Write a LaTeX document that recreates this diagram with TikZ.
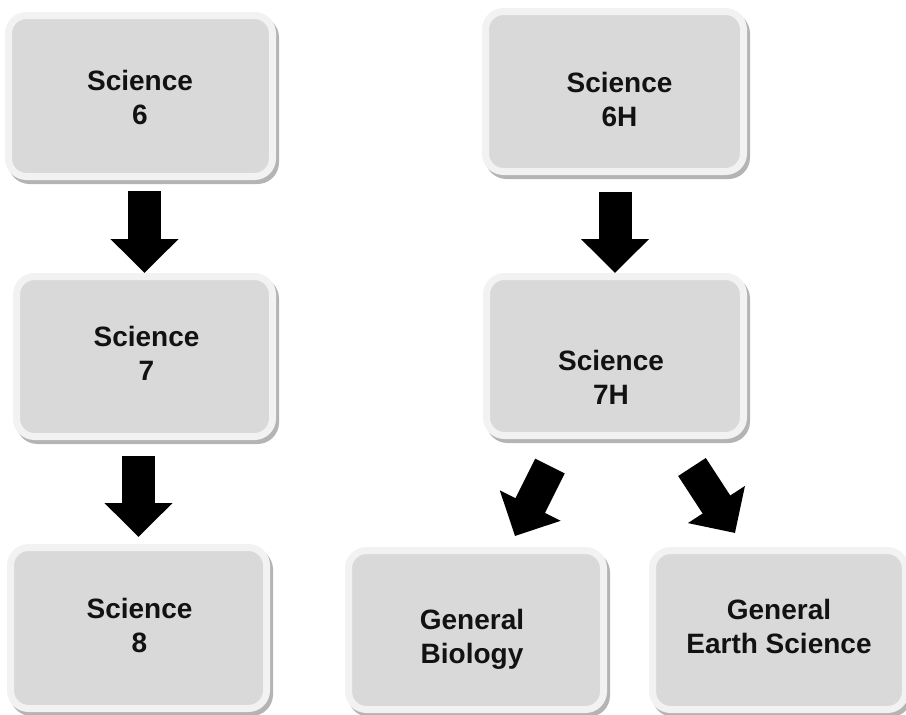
\documentclass[tikz,border=0pt]{standalone}
\usepackage{fontspec}
\setmainfont{Liberation Sans}
\usetikzlibrary{arrows.meta, calc}
\definecolor{boxfill}{HTML}{D9D9D9}
\definecolor{boxrim}{HTML}{F2F2F2}
\definecolor{boxshade}{HTML}{B4B4B4}

\begin{document}
\begin{tikzpicture}[x=1pt,y=-1pt,
        course/.style={draw=boxrim,fill=boxfill,line width=7pt,
            rounded corners=18pt,inner sep=0pt,
            preaction={draw=boxshade,fill=boxshade,line width=7pt,
            transform canvas={xshift=3pt,yshift=-4pt}}},
        title/.style={align=center,text=black!93,
            font=\fontsize{28}{34}\selectfont\bfseries},
        fatarrow/.style={line width=33pt,
            -{Triangle[length=34pt,width=66pt]}}
        ]
        \useasboundingbox (0,0) rectangle (906,715);

        % Regular track (left column)
        \node[course,minimum width=264pt,minimum height=161pt] (s6) at (140.5,96) {};
        \node[course,minimum width=256pt,minimum height=160pt] (s7) at (144.5,356.5) {};
        \node[course,minimum width=256pt,minimum height=161pt] (s8) at (138.5,628) {};
        \node[title] (t6) at (140,97) {Science\\6};
        \node[title] (t7) at (146.5,353) {Science\\7};
        \node[title] (t8) at (139.5,625) {Science\\8};

        % Honors track (right side)
        \node[course,minimum width=258pt,minimum height=160pt] (s6h) at (614.5,91.5) {};
        \node[course,minimum width=257pt,minimum height=159pt] (s7h) at (615,356) {};
        \node[course,minimum width=255pt,minimum height=159pt] (bio) at (476,630) {};
        \node[course,minimum width=253pt,minimum height=159pt] (earth) at (779,630) {};
        \node[title] (t6h) at (619.5,99) {Science\\6H};
        \node[title] (t7h) at (611,377) {Science\\7H};
        \node[title] (tbio) at (472,639) {General\\Biology};
        \node[title] (tearth) at (779,626.5) {General\\Earth Science};

        % Arrows
        \draw[fatarrow,shorten <=11pt] (s6.south -| s7.north) -- (s7.north);
        \draw[fatarrow,shorten <=16pt,shorten >=7pt] (s7.south -| s8.north) -- (s8.north);
        \draw[fatarrow,shorten <=17pt] (s6h.south -| s7h.north) -- (s7h.north);

        \coordinate (biotail) at ($(s7h.south)+(-65,27)$);
        \coordinate (biotip) at ($(bio.north)+(39,-11)$);
        \coordinate (earthtail) at ($(s7h.south)+(77,28)$);
        \coordinate (earthtip) at ($(earth.north)+(-44,-14)$);
        \draw[fatarrow] (biotail) -- (biotip);
        \draw[fatarrow] (earthtail) -- (earthtip);

    \end{tikzpicture}
\end{document}
